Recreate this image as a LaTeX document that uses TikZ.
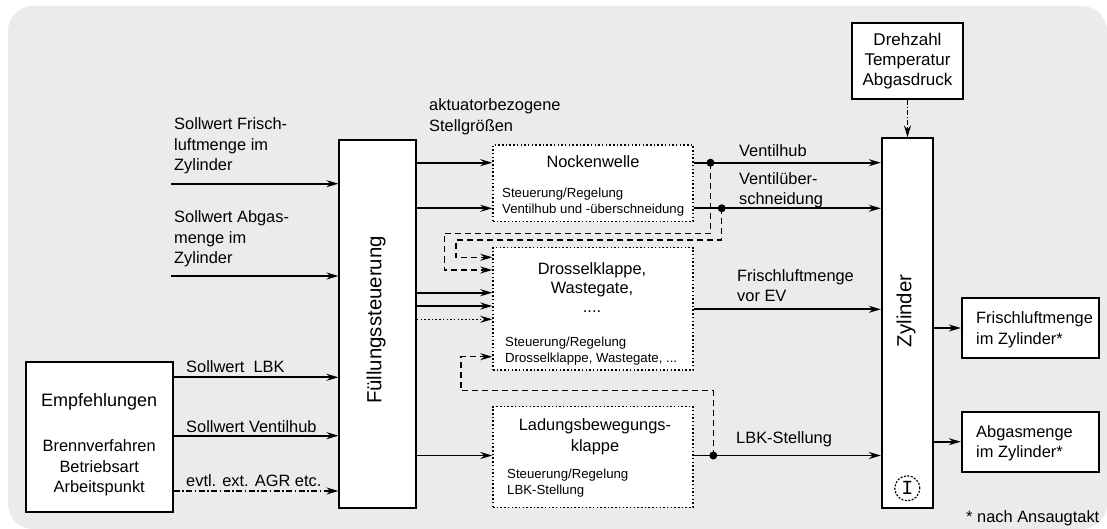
\documentclass[tikz,border=0pt]{standalone}
\usepackage{fontspec}
\setmainfont{Liberation Sans}
\newfontfamily\courfont{Liberation Mono}
\usepackage{tikz}
\usetikzlibrary{arrows.meta,backgrounds,calc}
\definecolor{bgGray}{RGB}{235,235,235}
\newcommand{\bigtxt}{\fontsize{16.4}{20.5}\selectfont}
\newcommand{\smalltxt}{\fontsize{13.2}{16.3}\selectfont}
\newcommand{\rottxt}{\fontsize{20.4}{24}\selectfont}
\tikzset{
  blk/.style={draw, line width=1.8pt, fill=white, inner sep=0pt},
  ctl/.style={draw, line width=1.5pt, dash pattern=on 1.5pt off 2.2pt, fill=white, inner sep=0pt, minimum width=200pt},
  sig/.style={line width=1.8pt, -{Stealth[length=12pt,width=7pt,inset=4pt]}},
  fb/.style={sig, line width=1.5pt, dash pattern=on 6pt off 4pt},
  dotsig/.style={sig, line width=1.5pt, dash pattern=on 1.5pt off 2.2pt},
  agrline/.style={sig, line width=1.5pt, dash pattern=on 6pt off 2.5pt on 1.5pt off 2.5pt},
  dzline/.style={sig, line width=1.2pt, dash pattern=on 5pt off 2pt on 1.2pt off 2pt},
  lbl/.style={inner sep=0pt, anchor=west, align=left, font=\bigtxt},
  lblb/.style={inner sep=0pt, anchor=base west, font=\bigtxt},
  ttl/.style={inner sep=0pt, align=center, font=\bigtxt},
  junc/.style={circle, fill, inner sep=0pt, minimum size=8pt}
}
\begin{document}
\begin{tikzpicture}[x=1pt,y=-1pt]
\useasboundingbox (0,0) rectangle (1107,529);
\fill[bgGray, rounded corners=25pt] (8,6) rectangle (1107,529);

\node[blk, minimum width=76.7pt, minimum height=368pt] (fs) at (377.7,324) {};
\node[rotate=90, inner sep=0pt, font=\rottxt] (fsT) at (376,320) {Füllungssteuerung};
\node[blk, minimum width=51pt, minimum height=369.4pt] (zyl) at (907.2,323) {};
\node[rotate=90, inner sep=0pt, font=\rottxt] (zylT) at (906,310.8) {Zylinder};
\node[ctl, minimum height=76.7pt] (nw) at (593,183.3) {};
\node[ctl, minimum height=122.3pt] (dk) at (593,308.8) {};
\node[ctl, minimum height=100.6pt] (lbk) at (593,457) {};
\node[blk, minimum width=147pt, minimum height=150pt] (emp) at (99.2,437.3) {};
\node[blk, minimum width=110.4pt, minimum height=75.7pt, align=center, font=\fontsize{17}{20}\selectfont] (dz) at (907.5,61.2) {Drehzahl\\Temperatur\\Abgasdruck};
\node[blk, minimum width=137.6pt, minimum height=60.6pt] (fl) at (1030.5,328) {};
\node[blk, minimum width=137.6pt, minimum height=60pt] (ag) at (1030.5,441.7) {};
\node[circle, draw, line width=1.2pt, dash pattern=on 2pt off 1.5pt, minimum size=25pt, inner sep=0pt, font=\courfont\fontsize{20}{20}\selectfont] (ind) at (907.3,488.3) {I};

\node[lbl] (sflT) at (174,146.2) {Sollwert Frisch-\\luftmenge im\\Zylinder};
\node[lbl] (sabT) at (174,239.2) {Sollwert Abgas-\\menge im\\Zylinder};
\node[lbl] (aktT) at (429,117) {aktuatorbezogene\\Stellgrößen};
\node[ttl, anchor=base] (nwT) at (593,168) {Nockenwelle};
\node[lbl, font=\smalltxt] (nwS) at (502,202.2) {Steuerung/Regelung\\Ventilhub und -überschneidung};
\node[ttl, font=\fontsize{16.4}{19}\selectfont] (dkT) at (592,287.3) {Drosselklappe,\\Wastegate,\\....};
\node[lbl, font=\smalltxt] (dkS) at (505,351) {Steuerung/Regelung\\Drosselklappe, Wastegate, ...};
\node[ttl] (lbkT) at (595,436.7) {Ladungsbewegungs-\\klappe};
\node[lbl, font=\smalltxt] (lbkS) at (507,483.3) {Steuerung/Regelung\\LBK-Stellung};
\node[ttl, anchor=base, font=\fontsize{18}{22}\selectfont] (empT) at (99.2,406.5) {Empfehlungen};
\node[ttl] (empS) at (99.2,468) {Brennverfahren\\Betriebsart\\Arbeitspunkt};
\node[lbl] (flT) at (976,329.9) {Frischluftmenge\\im Zylinder*};
\node[lbl] (agT) at (976,443.5) {Abgasmenge\\im Zylinder*};
\node[lblb] (sLbkT) at (186,372) {Sollwert\ \ LBK};
\node[lblb] (sVhT) at (186,432) {Sollwert Ventilhub};
\node[lblb] (agrT) at (186,486) {evtl. ext. AGR etc.};
\node[lblb] (vhT) at (739,157) {Ventilhub};
\node[lbl] (vueT) at (739,190.3) {Ventilüber-\\schneidung};
\node[lbl] (frT) at (737,285.5) {Frischluftmenge\\vor EV};
\node[lblb] (lbkO) at (736,443.3) {LBK-Stellung};
\node[lblb] (footT) at (966,522.5) {* nach Ansaugtakt};

\coordinate (rFl) at (171,183.7);
\coordinate (rAg) at (171,276);
\coordinate (rLbk) at (0,377.3);
\coordinate (rVh) at (0,435.7);
\coordinate (rAgr) at (0,491);
\coordinate (rNa) at (0,162.7);
\coordinate (rNb) at (0,208.3);
\coordinate (rDa) at (0,292.7);
\coordinate (rDb) at (0,306);
\coordinate (rDc) at (0,319.3);
\coordinate (rDo) at (0,309.3);
\coordinate (rL) at (0,455.5);
\coordinate (rFa) at (0,270);
\coordinate (rFb) at (0,257.3);
\coordinate (rFc) at (0,356.7);
\coordinate (fbA) at (444.3,233.3);
\coordinate (fbB) at (456,240);
\coordinate (fbC) at (461,390.7);

\draw[sig] (rFl) -- (rFl -| fs.west);
\draw[sig] (rAg) -- (rAg -| fs.west);
\draw[sig] (emp.east |- rLbk) -- (fs.west |- rLbk);
\draw[sig] (emp.east |- rVh) -- (fs.west |- rVh);
\draw[agrline] (emp.east |- rAgr) -- (fs.west |- rAgr);
\draw[sig] (fs.east |- rNa) -- (nw.west |- rNa);
\draw[sig] (fs.east |- rNb) -- (nw.west |- rNb);
\draw[sig] (fs.east |- rDa) -- (dk.west |- rDa);
\draw[sig] (fs.east |- rDb) -- (dk.west |- rDb);
\draw[dotsig] (fs.east |- rDc) -- (dk.west |- rDc);
\draw[sig] (fs.east |- rL) -- (lbk.west |- rL);
\draw[sig] (nw.east |- rNa) -- (zyl.west |- rNa);
\draw[sig] (nw.east |- rNb) -- (zyl.west |- rNb);
\draw[sig] (dk.east |- rDo) -- (zyl.west |- rDo);
\draw[sig] (lbk.east |- rL) -- (zyl.west |- rL);
\draw[sig] (zyl.east |- fl.west) -- (fl.west);
\draw[sig] (zyl.east |- ag.west) -- (ag.west);
\draw[dzline] (dz.south) -- (dz.south |- zyl.north);

\node[junc] (j1) at (710.5,162.7) {};
\node[junc] (j2) at (721.7,208.3) {};
\node[junc] (j3) at (713.3,455.5) {};
\draw[fb] (j1.center) |- (fbA) |- (dk.west |- rFa);
\draw[fb] (j2.center) |- (fbB) |- (dk.west |- rFb);
\draw[fb] (j3.center) |- (fbC) |- (dk.west |- rFc);
\end{tikzpicture}
\end{document}
